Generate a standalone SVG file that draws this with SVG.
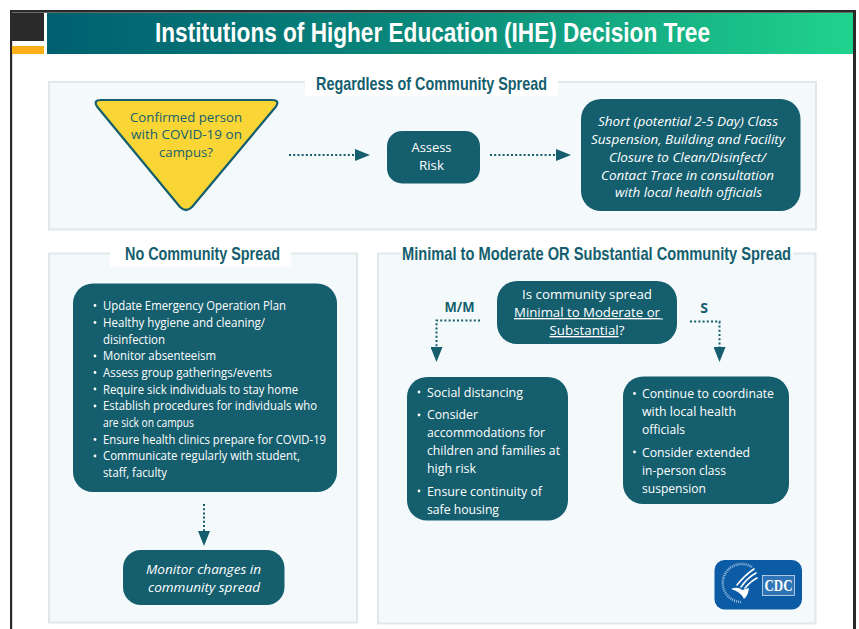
<svg xmlns="http://www.w3.org/2000/svg" width="859" height="629" viewBox="0 0 859 629">
<style>
text{font-family:"Open Sans","Noto Sans","Liberation Sans",sans-serif;font-size:13.500px;fill:#fff}
.i{font-style:italic}
.c{text-anchor:middle}
.h{font-family:"Liberation Sans","Noto Sans",sans-serif;font-weight:700;font-size:19px;fill:#155e6e}
.t{font-family:"Liberation Sans","Noto Sans",sans-serif;font-weight:700;font-size:28.500px;fill:#fff}
.dt{fill:#155e6e}
.box{fill:#155e6e}
.panel{fill:#f4fafb;stroke:#dfe9ec;stroke-width:2}
.flow{fill:none;stroke:#155e6e;stroke-width:2;stroke-dasharray:2 2.2}
.b{fill:#fff}
.lab{font-weight:700;fill:#155e6e;font-size:14px}
</style>
<defs>
<linearGradient id="hg" gradientUnits="userSpaceOnUse" x1="47" y1="0" x2="853" y2="0"><stop offset="0" stop-color="#005f70"/><stop offset=".5" stop-color="#0b8c7c"/><stop offset="1" stop-color="#20d38d"/></linearGradient>
<marker id="ah" markerUnits="userSpaceOnUse" markerWidth="16" markerHeight="12" refX="0" refY="6" orient="auto"><path d="M0 0L15 6L0 12Z" fill="#155e6e"/></marker>
</defs>
<rect width="859" height="629" fill="#fff"/>
<g id="frame">
<rect x="10" y="10" width="846" height="2.700" fill="#2a2a2a"/>
<rect x="10" y="10" width="2.200" height="619" fill="#2a2a2a"/>
<rect x="853" y="10" width="3" height="619" fill="#2a2a2a"/>
<rect x="12" y="13" width="32" height="28" fill="#2a2a2a"/>
<rect x="12" y="46" width="32" height="8" fill="#fcaf17"/>
<rect x="47" y="13" width="806" height="41" fill="url(#hg)"/>
<text class="t" x="155" y="42" textLength="555" lengthAdjust="spacingAndGlyphs">Institutions of Higher Education (IHE) Decision Tree</text>
</g>
<g id="panels">
<rect class="panel" x="49" y="82" width="767" height="147.500"/>
<rect class="panel" x="49" y="253.500" width="308" height="369"/>
<rect class="panel" x="378" y="253.500" width="437.500" height="370"/>
<rect x="305" y="76" width="253" height="20" fill="#fff"/>
<rect x="110" y="245" width="181" height="22" fill="#fff"/>
<rect x="401" y="245" width="392" height="9.600" fill="#fff"/>
<text class="h" x="316" y="90" textLength="231" lengthAdjust="spacingAndGlyphs">Regardless of Community Spread</text>
<text class="h" x="125" y="260" textLength="155" lengthAdjust="spacingAndGlyphs">No Community Spread</text>
<text class="h" x="402" y="260" textLength="389" lengthAdjust="spacingAndGlyphs">Minimal to Moderate OR Substantial Community Spread</text>
</g>
<g id="connectors">
<path class="flow" d="M289 155H355" marker-end="url(#ah)"/>
<path class="flow" d="M490 155H556" marker-end="url(#ah)"/>
<path class="flow" d="M204 504V531" marker-end="url(#ah)"/>
<path class="flow" d="M480 320.500H436.500V347" marker-end="url(#ah)"/>
<path class="flow" d="M690 321.500H719.500V347" marker-end="url(#ah)"/>
<text class="lab c" x="459.500" y="312" textLength="30" lengthAdjust="spacingAndGlyphs">M/M</text>
<text class="lab c" x="704" y="313">S</text>
</g>
<g id="node-confirmed">
<path d="M101 100H272Q280 100 276 106.500L192 207Q186 213 180 207L97 106.500Q93 100 101 100Z" fill="#f9d635" stroke="#155e6e" stroke-width="2.200" stroke-linejoin="round"/>
<text class="dt" x="130" y="122" textLength="112" lengthAdjust="spacingAndGlyphs">Confirmed person</text>
<text class="dt" x="131" y="139" textLength="111" lengthAdjust="spacingAndGlyphs">with COVID-19 on</text>
<text class="dt" x="159" y="157" textLength="54" lengthAdjust="spacingAndGlyphs">campus?</text>
</g>
<g id="node-assess">
<rect class="box" x="387" y="131" width="93" height="52.500" rx="15"/>
<text x="411.500" y="152" textLength="40" lengthAdjust="spacingAndGlyphs">Assess</text>
<text x="419" y="170" textLength="25" lengthAdjust="spacingAndGlyphs">Risk</text>
</g>
<g id="node-suspension">
<rect class="box" x="581" y="99" width="219.500" height="112" rx="20"/>
<text class="i" x="598" y="126" textLength="180" lengthAdjust="spacingAndGlyphs">Short (potential 2-5 Day) Class</text>
<text class="i" x="591" y="144" textLength="194" lengthAdjust="spacingAndGlyphs">Suspension, Building and Facility</text>
<text class="i" x="609" y="162" textLength="157" lengthAdjust="spacingAndGlyphs">Closure to Clean/Disinfect/</text>
<text class="i" x="601" y="180" textLength="173" lengthAdjust="spacingAndGlyphs">Contact Trace in consultation</text>
<text class="i" x="615" y="197" textLength="147" lengthAdjust="spacingAndGlyphs">with local health officials</text>
</g>
<g id="node-no-spread">
<rect class="box" x="73" y="283.500" width="264" height="208.500" rx="20"/>
<g class="b"><circle cx="95" cy="305.500" r="1.400"/><circle cx="95" cy="322.500" r="1.400"/><circle cx="95" cy="356" r="1.400"/><circle cx="95" cy="372.500" r="1.400"/><circle cx="95" cy="389" r="1.400"/><circle cx="95" cy="406" r="1.400"/><circle cx="95" cy="439.500" r="1.400"/><circle cx="95" cy="456" r="1.400"/></g>
<text x="103" y="310" textLength="183" lengthAdjust="spacingAndGlyphs">Update Emergency Operation Plan</text>
<text x="103" y="327" textLength="162" lengthAdjust="spacingAndGlyphs">Healthy hygiene and cleaning/</text>
<text x="103" y="343.500" textLength="62" lengthAdjust="spacingAndGlyphs">disinfection</text>
<text x="103" y="360" textLength="113" lengthAdjust="spacingAndGlyphs">Monitor absenteeism</text>
<text x="103" y="377" textLength="169" lengthAdjust="spacingAndGlyphs">Assess group gatherings/events</text>
<text x="103" y="393.500" textLength="195" lengthAdjust="spacingAndGlyphs">Require sick individuals to stay home</text>
<text x="103" y="410" textLength="214" lengthAdjust="spacingAndGlyphs">Establish procedures for individuals who</text>
<text x="103" y="427" textLength="91" lengthAdjust="spacingAndGlyphs">are sick on campus</text>
<text x="103" y="443.500" textLength="223" lengthAdjust="spacingAndGlyphs">Ensure health clinics prepare for COVID-19</text>
<text x="103" y="460" textLength="197" lengthAdjust="spacingAndGlyphs">Communicate regularly with student,</text>
<text x="103" y="477" textLength="64" lengthAdjust="spacingAndGlyphs">staff, faculty</text>
</g>
<g id="node-monitor">
<rect class="box" x="123" y="550" width="161.500" height="55" rx="18"/>
<text class="i" x="146" y="574" textLength="115" lengthAdjust="spacingAndGlyphs">Monitor changes in</text>
<text class="i" x="148" y="592" textLength="112" lengthAdjust="spacingAndGlyphs">community spread</text>
</g>
<g id="node-question">
<rect class="box" x="497" y="281" width="180" height="63" rx="20"/>
<text x="522" y="299" textLength="130" lengthAdjust="spacingAndGlyphs">Is community spread</text>
<text x="514" y="317" textLength="146" lengthAdjust="spacingAndGlyphs" text-decoration="underline">Minimal to Moderate or</text>
<rect x="660" y="318.500" width="3" height="1" fill="#fff"/>
<text x="549.500" y="335" textLength="75" lengthAdjust="spacingAndGlyphs"><tspan text-decoration="underline">Substantial</tspan>?</text>
</g>
<g id="node-mm">
<rect class="box" x="407" y="377" width="161" height="143.500" rx="20"/>
<g class="b"><circle cx="419" cy="392" r="1.400"/><circle cx="419" cy="415" r="1.400"/><circle cx="419" cy="491" r="1.400"/></g>
<text x="427" y="397" textLength="96" lengthAdjust="spacingAndGlyphs">Social distancing</text>
<text x="427" y="419" textLength="51" lengthAdjust="spacingAndGlyphs">Consider</text>
<text x="427" y="437" textLength="118" lengthAdjust="spacingAndGlyphs">accommodations for</text>
<text x="427" y="455" textLength="133" lengthAdjust="spacingAndGlyphs">children and families at</text>
<text x="427" y="473" textLength="49" lengthAdjust="spacingAndGlyphs">high risk</text>
<text x="427" y="496" textLength="115" lengthAdjust="spacingAndGlyphs">Ensure continuity of</text>
<text x="427" y="514" textLength="72" lengthAdjust="spacingAndGlyphs">safe housing</text>
</g>
<g id="node-s">
<rect class="box" x="623" y="376.500" width="166" height="127.500" rx="20"/>
<g class="b"><circle cx="634.500" cy="393.500" r="1.400"/><circle cx="634.500" cy="452" r="1.400"/></g>
<text x="642" y="398" textLength="132" lengthAdjust="spacingAndGlyphs">Continue to coordinate</text>
<text x="642" y="416" textLength="94" lengthAdjust="spacingAndGlyphs">with local health</text>
<text x="642" y="434" textLength="43" lengthAdjust="spacingAndGlyphs">officials</text>
<text x="642" y="457" textLength="108" lengthAdjust="spacingAndGlyphs">Consider extended</text>
<text x="642" y="475" textLength="84" lengthAdjust="spacingAndGlyphs">in-person class</text>
<text x="642" y="493" textLength="64" lengthAdjust="spacingAndGlyphs">suspension</text>
</g>
<g id="logo-cdc">
<rect x="714.500" y="560" width="87.500" height="49.500" rx="10" fill="#0b5ba5"/>
<path d="M752 567A19 19 0 1 0 741 602" fill="none" stroke="#9fc3e3" stroke-width="2.500" stroke-dasharray="1 1"/>
<path d="M731 589Q738 586 742 590L749 588Q748 596 744 599Q741 592 731 589Z" fill="#fff"/>
<path d="M737 585Q745 575 754 569M741 587Q747 578 756 573M745 588Q751 581 757 578" fill="none" stroke="#fff" stroke-width="1.600" stroke-linecap="round"/>
<rect x="762.500" y="575.500" width="32" height="20" fill="#2f74b6" stroke="#cfe0f0" stroke-width=".8"/>
<text x="764.500" y="591" textLength="28" lengthAdjust="spacingAndGlyphs" style="font-family:'Liberation Serif',serif;font-weight:700;font-size:16px">CDC</text>
</g>
</svg>
